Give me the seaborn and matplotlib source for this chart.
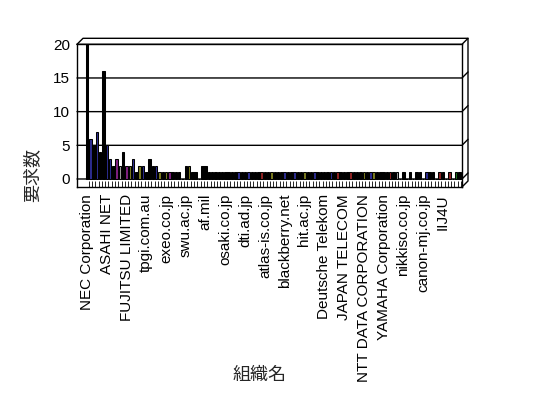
import matplotlib
matplotlib.use("Agg")
import matplotlib.pyplot as plt
import seaborn as sns
import numpy as np
import pandas as pd

# 要求数 per organisation (114 organisations, only every 6th name is printed)
request_counts = [
    20, 6, 5, 7, 4, 16, 5, 3, 2, 3, 2, 4, 2, 2, 3, 1, 2, 2, 1, 3,
    2, 2, 1, 1, 1, 1, 1, 1, 1, 0, 2, 2, 1, 1, 0, 2, 2, 1, 1, 1,
    1, 1, 1, 1, 1, 1, 1, 1, 1, 1, 1, 1, 1, 1, 1, 1, 1, 1, 1, 1,
    1, 1, 1, 1, 1, 1, 1, 1, 1, 1, 1, 1, 1, 1, 1, 1, 1, 1, 1, 1,
    1, 1, 1, 1, 1, 1, 1, 1, 1, 1, 1, 1, 1, 1, 1, 0, 1, 0, 1, 0,
    1, 1, 0, 1, 1, 1, 0, 1, 1, 0, 1, 0, 1, 1,
]

tick_labels = [
    "NEC Corporation", "ASAHI NET", "FUJITSU LIMITED", "tpgi.com.au",
    "exeo.co.jp", "swu.ac.jp", "af.mil", "osaki.co.jp", "dti.ad.jp",
    "atlas-is.co.jp", "blackberry.net", "hit.ac.jp", "Deutsche Telekom",
    "JAPAN TELECOM", "NTT DATA CORPORATION", "YAMAHA Corporation",
    "nikkiso.co.jp", "canon-mj.co.jp", "IIJ4U",
]

# bars that show a colour instead of plain black
bar_colours = {
    1: "#1c1ca0", 3: "#1c1ca0", 6: "#1c1ca0", 7: "#1c1ca0", 9: "#901090",
    10: "#a0a0a0", 12: "#901090", 13: "#8a8a10", 14: "#1c1ca0",
    16: "#8a8a10", 17: "#1c1ca0", 21: "#1c1ca0", 22: "#8a8a10",
    24: "#8a8a10", 25: "#901090", 31: "#8a8a10", 46: "#1c1ca0",
    49: "#1c1ca0", 53: "#a01010", 56: "#8a8a10", 60: "#1c1ca0",
    63: "#1c1ca0", 66: "#8a8a10", 69: "#1c1ca0", 74: "#1c1ca0",
    76: "#a01010", 80: "#a01010", 84: "#8a8a10", 86: "#1c1ca0",
    87: "#8a8a10", 92: "#a01010", 94: "#a0a0a0", 103: "#1c1ca0",
    107: "#a01010", 110: "#a01010", 112: "#108010",
}

sns.set_theme(style="white")
plt.rcParams["font.family"] = ["Liberation Sans", "Noto Sans CJK JP", "DejaVu Sans"]

n = len(request_counts)
df = pd.DataFrame({"org": list(range(n)), "count": request_counts})
palette = {i: bar_colours.get(i, "black") for i in range(n)}

fig = plt.figure(figsize=(5.48, 3.98), dpi=100)
ax = fig.add_axes([77 / 548, 1 - 187 / 398, 385 / 548, (187 - 44.3) / 398])

sns.barplot(data=df, x="org", y="count", hue="org", palette=palette,
            legend=False, width=0.75, edgecolor="black", linewidth=0.75,
            ax=ax, zorder=3)

x0, x1 = -3.03, 113.8
y0, y1 = -1.19, 20
dx, dy = 1.82, 0.89
ax.set_xlim(x0, x1)
ax.set_ylim(y0, y1)

# gridlines on the wall, with the little 3D tails on the right
for g in [0, 5, 10, 15, 20]:
    ax.plot([x0, x1, x1 + dx], [g, g, g + dy], color="black", lw=1,
            clip_on=False, zorder=2)

# back wall + depth edges
ax.plot([x0, x0 + dx, x1 + dx, x1 + dx, x1],
        [y1, y1 + dy, y1 + dy, y0 + dy, y0],
        color="black", lw=1, clip_on=False)

# tick band under the bars
ax.vlines(np.arange(n) + 0.5, y0, -0.35, color="black", lw=0.6)

for s in ax.spines.values():
    s.set_color("black")
    s.set_linewidth(1)

ax.set_yticks([0, 5, 10, 15, 20])
ax.set_xticks(list(range(0, n, 6)), tick_labels, rotation=90)
ax.tick_params(axis="both", length=0, labelsize=11, colors="black")
ax.tick_params(axis="y", pad=5)
ax.tick_params(axis="x", pad=5)
ax.set_xlabel("")
ax.set_ylabel("")

fig.text(33 / 548, 1 - 175 / 398, "要求数", rotation=90, ha="center",
         va="center", fontsize=13)
fig.text(260 / 548, 1 - 375 / 398, "組織名", ha="center", va="center",
         fontsize=13)

fig.savefig("out.png", dpi=100)
